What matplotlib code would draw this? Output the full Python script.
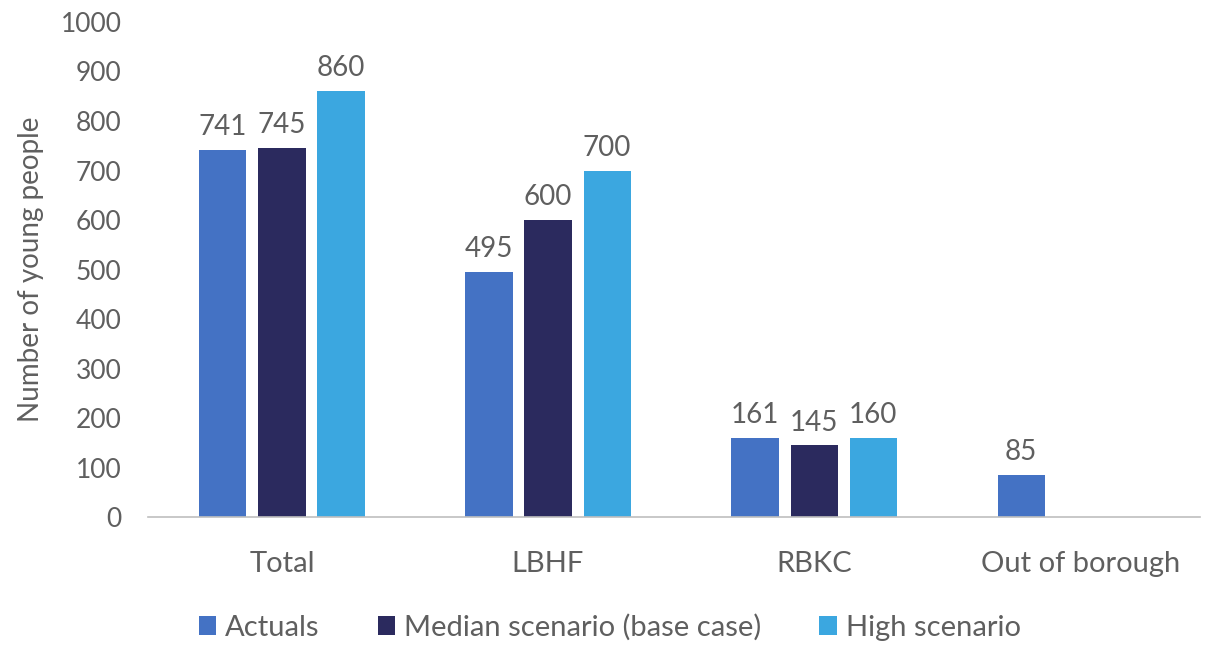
import matplotlib
matplotlib.use("Agg")
import matplotlib.pyplot as plt
import numpy as np

categories = ["Total", "LBHF", "RBKC", "Out of borough"]
series_names = ["Actuals", "Median scenario (base case)", "High scenario"]
actuals = [741, 495, 161, 85]
median = [745, 600, 145, None]
high = [860, 700, 160, None]
colors = ["#4472C4", "#2B2A5E", "#3BA7E0"]

plt.rcParams['font.family'] = ['Lato', 'DejaVu Sans']
txt = "#5f5f5f"

fig = plt.figure(figsize=(12.12, 6.45), dpi=100)
ax = fig.add_axes([0.122, 0.198, 0.868, 0.768])

x = np.arange(len(categories))
w = 0.177
off = 0.222
for i, (vals, c, name) in enumerate(zip([actuals, median, high], colors, series_names)):
    xs = [xi + (i - 1) * off for xi, v in zip(x, vals) if v is not None]
    vs = [v for v in vals if v is not None]
    bars = ax.bar(xs, vs, width=w, color=c, label=name)
    for xx, v in zip(xs, vs):
        ax.text(xx, v + 20, str(v), ha='center', va='bottom', fontsize=20,
                color=txt)

ax.set_ylim(0, 1000)
ax.set_xlim(-0.504, 3.45)
ax.set_yticks(range(0, 1001, 100))
ax.set_xticks(x)
ax.set_xticklabels(categories)
ax.tick_params(axis='both', length=0, labelcolor=txt)
ax.tick_params(axis='y', labelsize=19, pad=19)
ax.tick_params(axis='x', labelsize=21, pad=24)
for s in ['top', 'right', 'left']:
    ax.spines[s].set_visible(False)
ax.spines['bottom'].set_color('#BFBFBF')
ax.spines['bottom'].set_linewidth(1.2)
ax.set_ylabel("Number of young people", fontsize=20, color=txt, labelpad=12)

leg = fig.legend(loc='center', bbox_to_anchor=(0.503, 0.027), ncol=3, frameon=False,
                 fontsize=21, handlelength=0.6, handleheight=0.6, handletextpad=0.3,
                 columnspacing=2.0)
for t in leg.get_texts():
    t.set_color(txt)

fig.savefig("out.png", dpi=100)
